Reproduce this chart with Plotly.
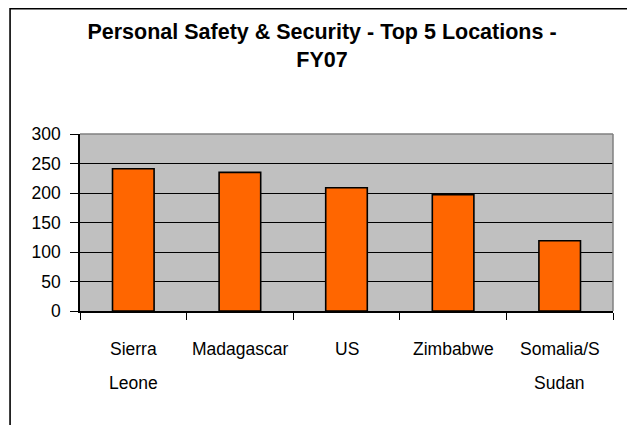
import plotly.graph_objects as go

categories = ["Sierra Leone", "Madagascar", "US", "Zimbabwe", "Somalia/S Sudan"]
label_lines = [["Sierra", "Leone"], ["Madagascar"], ["US"], ["Zimbabwe"], ["Somalia/S", "Sudan"]]
values = [241, 235, 209, 197, 119]
y_ticks = [0, 50, 100, 150, 200, 250, 300]
title_text = "Personal Safety & Security - Top 5 Locations -<br>FY07"

# the page body adds an 8px offset, so the figure is sized to fit inside it
W, H = 627, 417
L, R, T, B = 72, 21.5, 126, 114.3
pw = W - L - R
ph = H - T - B

label_font = dict(family="Liberation Sans, Arial", size=17.5, color="#000000")

fig = go.Figure()
fig.add_trace(go.Bar(
    x=categories, y=values,
    marker=dict(color="#FF6600", line=dict(color="#000000", width=1.6)),
    width=0.39,
))

annotations = []
for cat, lines in zip(categories, label_lines):
    for i, ln in enumerate(lines):
        annotations.append(dict(
            x=cat, xref="x", y=0, yref="paper", text=ln, showarrow=False,
            xanchor="center", yanchor="middle", yshift=-38 - 34 * i,
            font=label_font,
        ))

def px_x(p):
    return (p - L) / pw

def px_y(p):
    return (H - B - p) / ph

shapes = [
    # outer chart frame
    dict(type="rect", xref="paper", yref="paper",
         x0=px_x(2), x1=px_x(623), y0=px_y(440), y1=px_y(0.8),
         line=dict(color="#000000", width=1.6), fillcolor="rgba(0,0,0,0)", layer="above"),
    # grey plot-area border on top and right
    dict(type="line", xref="paper", yref="paper", x0=0, x1=1, y0=1, y1=1,
         line=dict(color="#808080", width=1.5)),
    dict(type="line", xref="paper", yref="paper", x0=1, x1=1, y0=0, y1=1,
         line=dict(color="#808080", width=1.5)),
]

fig.update_layout(
    width=W, height=H,
    margin=dict(l=L, r=R, t=T, b=B, pad=0, autoexpand=False),
    paper_bgcolor="#FFFFFF",
    plot_bgcolor="#C0C0C0",
    showlegend=False,
    title=dict(
        text=title_text,
        x=314 / W, xref="container", xanchor="center",
        y=1 - 31 / H, yref="container", yanchor="top",
        font=dict(family="Liberation Sans, Arial", size=21.5, color="#000000", weight="bold"),
        automargin=False,
    ),
    xaxis=dict(
        type="category",
        showticklabels=False,
        ticks="outside", tickson="boundaries", ticklen=7, tickcolor="#000000", tickwidth=1,
        showline=True, linecolor="#000000", linewidth=1.5,
        showgrid=False, zeroline=False,
        range=[-0.5, 4.5], automargin=False,
    ),
    yaxis=dict(
        range=[0, 300], tickvals=y_ticks,
        ticks="outside", ticklen=8, tickcolor="#000000", tickwidth=1,
        showline=True, linecolor="#000000", linewidth=1.5,
        showgrid=True, gridcolor="#000000", gridwidth=1,
        zeroline=False, automargin=False,
        tickfont=label_font,
        ticklabelstandoff=6,
    ),
    annotations=annotations,
    shapes=shapes,
)

fig.write_html("out.html")
